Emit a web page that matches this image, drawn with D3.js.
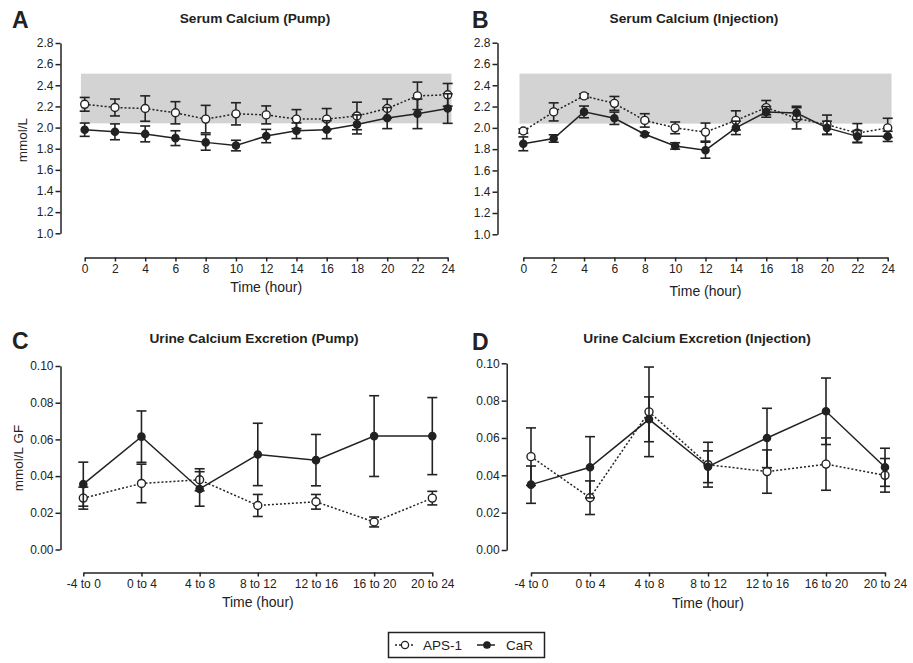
<!DOCTYPE html>
<html>
<head>
<meta charset="utf-8">
<script src="https://cdn.jsdelivr.net/npm/d3@7"></script>
<style>
  body { margin: 0; background: white; }
  svg { display: block; font-family: "Liberation Sans", Arial, sans-serif; }
  .axis path, .axis line { stroke: #222; stroke-width: 1.5; }
  .axis text { font-size: 12px; fill: #222; }
</style>
</head>
<body>
<div id="chart"></div>
<script>
// Data
const hours = [0, 2, 4, 6, 8, 10, 12, 14, 16, 18, 20, 22, 24];
const serumTicks = [1.0, 1.2, 1.4, 1.6, 1.8, 2.0, 2.2, 2.4, 2.6, 2.8];
const normalRange = [2.04, 2.51];

const pumpAps    = [2.22, 2.19, 2.18, 2.14, 2.08, 2.13, 2.12, 2.08, 2.08, 2.11, 2.18, 2.30, 2.31];
const pumpApsErr = [0.065, 0.08, 0.12, 0.105, 0.13, 0.105, 0.085, 0.09, 0.10, 0.13, 0.09, 0.13, 0.107];
const pumpCar    = [1.98, 1.96, 1.94, 1.90, 1.86, 1.83, 1.92, 1.97, 1.98, 2.03, 2.09, 2.13, 2.18];
const pumpCarErr = [0.063, 0.075, 0.075, 0.07, 0.074, 0.05, 0.063, 0.074, 0.085, 0.09, 0.10, 0.14, 0.14];

const injAps    = [1.97, 2.15, 2.30, 2.23, 2.07, 2.00, 1.96, 2.07, 2.19, 2.09, 2.03, 1.95, 2.00];
const injApsErr = [0.02, 0.085, 0.02, 0.065, 0.063, 0.055, 0.085, 0.09, 0.067, 0.10, 0.09, 0.09, 0.09];
const injCar    = [1.85, 1.90, 2.15, 2.09, 1.94, 1.83, 1.79, 2.00, 2.15, 2.14, 2.00, 1.92, 1.92];
const injCarErr = [0.065, 0.035, 0.055, 0.058, 0.015, 0.03, 0.075, 0.063, 0.05, 0.063, 0.063, 0.055, 0.048];

const periods = ["-4 to 0", "0 to 4", "4 to 8", "8 to 12", "12 to 16", "16 to 20", "20 to 24"];
const urineTicks = [0, 0.02, 0.04, 0.06, 0.08, 0.10];

const urPumpAps    = [0.028, 0.036, 0.038, 0.024, 0.026, 0.015, 0.028];
const urPumpApsErr = [0.006, 0.0105, 0.006, 0.006, 0.004, 0.0027, 0.0037];
const urPumpCar    = [0.0356, 0.0615, 0.033, 0.0518, 0.0487, 0.0618, 0.0618];
const urPumpCarErr = [0.012, 0.014, 0.0094, 0.017, 0.014, 0.022, 0.021];

const urInjAps    = [0.050, 0.028, 0.074, 0.0457, 0.042, 0.046, 0.040];
const urInjApsErr = [0.0154, 0.009, 0.024, 0.012, 0.0116, 0.014, 0.009];
const urInjCar    = [0.035, 0.0443, 0.070, 0.0446, 0.060, 0.0743, 0.0443];
const urInjCarErr = [0.010, 0.0164, 0.012, 0.0085, 0.0159, 0.0178, 0.0102];

const width = 913, height = 663;
const ink = "#222";

const svg = d3.select("#chart").append("svg")
  .attr("width", width)
  .attr("height", height)
  .attr("viewBox", [0, 0, width, height]);

function drawPanel(p) {
  const g = svg.append("g");

  let x;
  if (p.categorical) {
    x = d3.scalePoint(p.xs, p.xRange);
  } else {
    x = d3.scaleLinear([0, 24], p.xRange);
  }
  const y = d3.scaleLinear(p.yDomain, p.yRange);

  // normal range band
  if (p.band) {
    g.append("rect")
      .attr("x", x(-0.25))
      .attr("width", x(24.25) - x(-0.25))
      .attr("y", y(p.band[1]))
      .attr("height", y(p.band[0]) - y(p.band[1]))
      .attr("fill", "#d3d3d3");
  }

  // y axis
  g.append("g")
    .attr("class", "axis")
    .attr("transform", `translate(${p.yAxisX},0)`)
    .call(d3.axisLeft(y).tickValues(p.yTicks).tickFormat(d3.format(p.yFormat))
      .tickSize(5).tickSizeOuter(0).tickPadding(2));

  // x axis
  g.append("g")
    .attr("class", "axis")
    .attr("transform", `translate(0,${p.xAxisY})`)
    .call((p.categorical ? d3.axisBottom(x) : d3.axisBottom(x).tickValues(hours))
      .tickSize(4).tickSizeOuter(0).tickPadding(3));

  const series = [
    { v: p.aps, e: p.apsErr, dash: "2,2", open: true },
    { v: p.car, e: p.carErr, dash: null, open: false }
  ];

  series.forEach(s => {
    const pts = p.xs.map((xv, i) => ({ x: x(xv), v: s.v[i], e: s.e[i] }));
    const line = d3.line().x(d => d.x).y(d => y(d.v));

    g.append("path")
      .datum(pts)
      .attr("d", line)
      .attr("fill", "none")
      .attr("stroke", ink)
      .attr("stroke-width", 1.5)
      .attr("stroke-dasharray", s.dash);

    const bars = g.append("g")
      .attr("stroke", ink)
      .attr("stroke-width", 1.6)
      .selectAll("g")
      .data(pts)
      .join("g");
    bars.append("line")
      .attr("x1", d => d.x).attr("x2", d => d.x)
      .attr("y1", d => y(d.v + d.e)).attr("y2", d => y(d.v - d.e));
    bars.append("line")
      .attr("x1", d => d.x - 5).attr("x2", d => d.x + 5)
      .attr("y1", d => y(d.v + d.e)).attr("y2", d => y(d.v + d.e));
    bars.append("line")
      .attr("x1", d => d.x - 5).attr("x2", d => d.x + 5)
      .attr("y1", d => y(d.v - d.e)).attr("y2", d => y(d.v - d.e));

    g.append("g")
      .selectAll("circle")
      .data(pts)
      .join("circle")
      .attr("cx", d => d.x)
      .attr("cy", d => y(d.v))
      .attr("r", s.open ? 4 : 3.6)
      .attr("fill", s.open ? "white" : ink)
      .attr("stroke", ink)
      .attr("stroke-width", 1.4);
  });

  // panel letter
  g.append("text")
    .attr("x", p.letterX).attr("y", p.letterY)
    .attr("font-size", 23).attr("font-weight", "bold").attr("fill", ink)
    .text(p.letter);

  // title
  g.append("text")
    .attr("x", p.titleX).attr("y", p.titleY)
    .attr("text-anchor", "middle")
    .attr("font-size", 13.7).attr("font-weight", "bold").attr("fill", ink)
    .text(p.title);

  // x label
  g.append("text")
    .attr("x", (p.xRange[0] + p.xRange[1]) / 2).attr("y", p.xLabelY)
    .attr("text-anchor", "middle")
    .attr("font-size", 14).attr("fill", ink)
    .text("Time (hour)");

  // y label
  if (p.yLabel) {
    g.append("text")
      .attr("transform", `translate(${p.yLabelX},${p.yLabelCy}) rotate(-90)`)
      .attr("text-anchor", "middle")
      .attr("dy", "0.35em")
      .attr("font-size", 13.5).attr("fill", ink)
      .text(p.yLabel);
  }
}

drawPanel({
  letter: "A", letterX: 12, letterY: 28,
  title: "Serum Calcium (Pump)", titleX: 255, titleY: 22.5,
  xs: hours, xRange: [84.7, 447.7], xAxisY: 257.5, xLabelY: 292,
  yDomain: [1.0, 2.8], yRange: [233.3, 43], yAxisX: 60.5,
  yTicks: serumTicks, yFormat: ".1f",
  yLabel: "mmol/L", yLabelX: 22.5, yLabelCy: 140,
  band: normalRange,
  aps: pumpAps, apsErr: pumpApsErr, car: pumpCar, carErr: pumpCarErr
});

drawPanel({
  letter: "B", letterX: 472, letterY: 28,
  title: "Serum Calcium (Injection)", titleX: 694, titleY: 22.5,
  xs: hours, xRange: [523.3, 887.7], xAxisY: 257.5, xLabelY: 295.5,
  yDomain: [1.0, 2.8], yRange: [234.3, 42.7], yAxisX: 497.5,
  yTicks: serumTicks, yFormat: ".1f",
  band: normalRange,
  aps: injAps, apsErr: injApsErr, car: injCar, carErr: injCarErr
});

drawPanel({
  letter: "C", letterX: 12, letterY: 349,
  title: "Urine Calcium Excretion (Pump)", titleX: 254, titleY: 342.5,
  categorical: true,
  xs: periods, xRange: [83.3, 432.3], xAxisY: 572.5, xLabelY: 607,
  yDomain: [0, 0.1], yRange: [549.5, 366], yAxisX: 60.5,
  yTicks: urineTicks, yFormat: ".2f",
  yLabel: "mmol/L GF", yLabelX: 18, yLabelCy: 458,
  aps: urPumpAps, apsErr: urPumpApsErr, car: urPumpCar, carErr: urPumpCarErr
});

drawPanel({
  letter: "D", letterX: 472, letterY: 350,
  title: "Urine Calcium Excretion (Injection)", titleX: 697, titleY: 342.5,
  categorical: true,
  xs: periods, xRange: [531, 885], xAxisY: 572.5, xLabelY: 608,
  yDomain: [0, 0.1], yRange: [550, 363.3], yAxisX: 506.7,
  yTicks: urineTicks, yFormat: ".2f",
  aps: urInjAps, apsErr: urInjApsErr, car: urInjCar, carErr: urInjCarErr
});

// Legend
const legend = svg.append("g");
legend.append("rect")
  .attr("x", 388.5).attr("y", 632.5)
  .attr("width", 156).attr("height", 25)
  .attr("fill", "white").attr("stroke", ink).attr("stroke-width", 1.5);

const legendItems = [
  { label: "APS-1", x0: 395, open: true, dash: "2,2", tx: 423 },
  { label: "CaR", x0: 477, open: false, dash: null, tx: 506 }
];
legendItems.forEach(d => {
  legend.append("line")
    .attr("x1", d.x0).attr("x2", d.x0 + 18)
    .attr("y1", 645).attr("y2", 645)
    .attr("stroke", ink).attr("stroke-width", 1.5)
    .attr("stroke-dasharray", d.dash);
  legend.append("circle")
    .attr("cx", d.x0 + 10).attr("cy", 645)
    .attr("r", d.open ? 3.6 : 3.2)
    .attr("fill", d.open ? "white" : ink)
    .attr("stroke", ink).attr("stroke-width", 1.3);
  legend.append("text")
    .attr("x", d.tx).attr("y", 649.5)
    .attr("font-size", 13.5).attr("fill", ink)
    .text(d.label);
});
</script>
</body>
</html>
